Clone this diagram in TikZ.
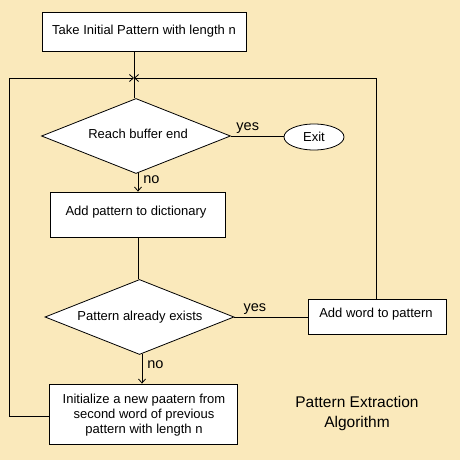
\documentclass[tikz,border=0pt]{standalone}
\usepackage{fontspec}
\setmainfont{Liberation Sans}
\usetikzlibrary{shapes.geometric,arrows.meta}
\definecolor{bg}{HTML}{FAE9BB}
\tikzset{
  txt/.style={font=\fontsize{13}{15}\selectfont,inner sep=0pt,align=center},
  boxnode/.style={draw,fill=white,line width=0.8pt,inner sep=0pt},
  dianode/.style={draw,fill=white,diamond,line width=0.8pt,inner sep=0pt},
  conn/.style={line width=0.8pt},
  arr/.style={conn,-{Straight Barb[length=4pt,width=7pt]}},
  lbl/.style={font=\fontsize{14.5}{16}\selectfont,inner sep=0pt}
}
\begin{document}
\begin{tikzpicture}[x=1pt,y=-1pt]
\fill[bg] (0,0) rectangle (460,460);
\useasboundingbox (0,0) rectangle (460,460);
\node[boxnode,txt,minimum width=204pt,minimum height=39pt] (init) at (144,31.5) {Take Initial Pattern with length n};
\node[dianode,minimum width=189pt,minimum height=75pt] (d1) at (136,136) {};
\node[txt] at (138,134) {Reach buffer end};
\node[ellipse,draw,fill=white,line width=0.8pt,minimum width=60pt,minimum height=26pt,txt] (exit) at (314,137) {Exit};
\node[boxnode,minimum width=175pt,minimum height=45pt] (dict) at (137.5,214.5) {};
\node[txt] at (136,212) {Add pattern to dictionary};
\node[dianode,minimum width=189pt,minimum height=75pt] (d2) at (139.5,317) {};
\node[txt] at (140,317) {Pattern already exists};
\node[boxnode,minimum width=138pt,minimum height=35pt] (word) at (377,316.5) {};
\node[txt] at (376,314) {Add word to pattern};
\node[boxnode,minimum width=188pt,minimum height=60pt] (newp) at (143,414) {};
\node[txt] at (144,415) {Initialize a new paatern from\\second word of previous\\pattern with length n};
\node[font=\fontsize{15.5}{20}\selectfont,align=center,inner sep=0pt] (title) at (357,413) {Pattern Extraction\\Algorithm};
\coordinate (j) at (134,78);
\coordinate (tl) at (9,78);
\coordinate (tr) at (376,78);
\draw[conn] (init.south -| j) -- (j |- d1.north);
\draw[conn] (d1.east) -- node[lbl,pos=0.32,above=2pt]{yes} (exit.west |- d1.east);
\draw[arr] (138,173) -- node[lbl,right=5pt,pos=0.35]{no} (dict.north -| 138,0);
\draw[conn] (dict.south -| 138,0) -- (d2.north -| 138,0);
\draw[conn] (d2.east) -- node[lbl,pos=0.28,above=2pt]{yes} (word.west |- d2.east);
\draw[arr] (142,354) -- node[lbl,right=5pt,pos=0.35]{no} (newp.north -| 142,0);
\draw[arr] (word.north -| tr) -- (tr) -- (j);
\draw[arr] (newp.west |- 0,416) -- (tl |- 0,416) -- (tl) -- (j);
\end{tikzpicture}
\end{document}
